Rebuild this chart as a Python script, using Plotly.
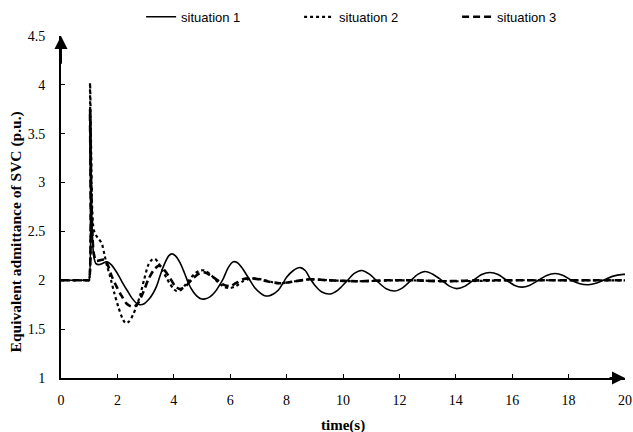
import plotly.graph_objects as go

# ---- data ----
t1 = [0, 0.5, 0.95, 0.99, 1.03, 1.07, 1.11, 1.16, 1.24, 1.34, 1.45, 1.62, 1.78, 1.91, 2.06, 2.21,
      2.36, 2.51, 2.66, 2.80, 2.95, 3.10, 3.25, 3.39, 3.54, 3.69, 3.82, 3.93, 4.06, 4.22, 4.37,
      4.52, 4.67, 4.81, 4.96, 5.11, 5.28, 5.46, 5.60, 5.76, 5.93, 6.11, 6.26, 6.41, 6.55, 6.70,
      6.88, 7.06, 7.20, 7.35, 7.53, 7.71, 7.85, 8.00, 8.24, 8.48, 8.66, 8.83, 9.00, 9.25, 9.54,
      9.82, 10.13, 10.40, 10.66, 10.95, 11.25, 11.55, 11.84, 12.10, 12.38, 12.65, 12.91, 13.20,
      13.50, 13.77, 14.03, 14.33, 14.62, 14.92, 15.21, 15.50, 15.80, 16.07, 16.34, 16.63, 16.93,
      17.22, 17.52, 17.81, 18.10, 18.40, 18.70, 18.97, 19.23, 19.55, 19.94, 20.0]
s1 = [2.0, 2.0, 2.0, 2.0, 3.77, 3.0, 2.5, 2.25, 2.17, 2.16, 2.17, 2.19, 2.16, 2.11, 2.04, 1.96,
      1.89, 1.82, 1.77, 1.75, 1.76, 1.80, 1.86, 1.94, 2.07, 2.18, 2.25, 2.27, 2.25, 2.18, 2.08,
      1.97, 1.89, 1.84, 1.81, 1.81, 1.83, 1.88, 1.94, 2.02, 2.13, 2.19, 2.18, 2.13, 2.07, 2.00,
      1.92, 1.87, 1.845, 1.84, 1.86, 1.90, 1.96, 2.03, 2.10, 2.13, 2.10, 2.02, 1.95, 1.88, 1.86,
      1.90, 1.99, 2.07, 2.10, 2.06, 1.98, 1.91, 1.89, 1.92, 1.99, 2.06, 2.09, 2.06,
      2.00, 1.94, 1.915, 1.94, 2.00, 2.06, 2.08, 2.06, 2.00, 1.95, 1.93, 1.95, 2.00,
      2.05, 2.07, 2.05, 2.00, 1.965, 1.955, 1.97, 2.00, 2.04, 2.06, 2.06]

t2 = [0, 0.5, 0.95, 0.99, 1.03, 1.07, 1.11, 1.16, 1.24, 1.32, 1.44, 1.55, 1.64, 1.74, 1.88, 2.03,
      2.18, 2.30, 2.42, 2.56, 2.68, 2.80, 2.95, 3.10, 3.22, 3.33, 3.45, 3.60, 3.75, 3.87, 4.00,
      4.10, 4.25, 4.40, 4.54, 4.75, 4.95, 5.10, 5.37, 5.60, 5.80, 5.99, 6.20, 6.45, 6.75, 7.10,
      7.50, 7.80, 8.30, 8.80, 9.50, 10.5, 12.0, 14.0, 16.0, 18.0, 20.0]
s2 = [2.0, 2.0, 2.0, 2.0, 4.02, 3.3, 2.7, 2.52, 2.46, 2.43, 2.38, 2.25, 2.14, 2.04, 1.88, 1.73,
      1.61, 1.56, 1.58, 1.65, 1.74, 1.84, 2.01, 2.16, 2.21, 2.22, 2.18, 2.10, 2.02, 1.96, 1.91,
      1.89, 1.90, 1.95, 2.00, 2.07, 2.10, 2.10, 2.04, 1.97, 1.93, 1.92, 1.94, 1.99, 2.02, 2.01,
      1.98, 1.97, 1.99, 2.01, 2.00, 1.99, 2.00, 1.99, 2.00, 2.00, 2.00]

t3 = [0, 0.5, 0.95, 0.99, 1.03, 1.07, 1.11, 1.16, 1.24, 1.32, 1.45, 1.56, 1.68, 1.80, 1.98, 2.15,
      2.33, 2.51, 2.62, 2.74, 2.92, 3.10, 3.30, 3.48, 3.65, 3.87, 4.05, 4.22, 4.42, 4.65, 4.90,
      5.11, 5.35, 5.60, 5.80, 5.99, 6.20, 6.45, 6.70, 7.00, 7.30, 7.77, 8.30, 8.83, 9.50, 10.5,
      11.5, 12.5, 13.5, 15.0, 17.0, 20.0]
s3 = [2.0, 2.0, 2.0, 2.0, 3.75, 3.0, 2.5, 2.28, 2.20, 2.20, 2.21, 2.21, 2.14, 2.04, 1.93, 1.84,
      1.76, 1.73, 1.735, 1.77, 1.88, 2.01, 2.11, 2.15, 2.11, 2.02, 1.94, 1.91, 1.94, 2.01, 2.07,
      2.08, 2.04, 1.99, 1.95, 1.94, 1.97, 2.01, 2.02, 2.01, 1.99, 1.97, 1.99, 2.01, 2.00, 1.99,
      2.00, 2.00, 1.99, 2.00, 2.00, 2.00]

names = ["situation 1", "situation 2", "situation 3"]
x_ticks = [0, 2, 4, 6, 8, 10, 12, 14, 16, 18, 20]
y_ticks = [1, 1.5, 2, 2.5, 3, 3.5, 4, 4.5]

fig = go.Figure()
fig.add_trace(go.Scatter(x=t1, y=s1, name=names[0], mode="lines",
                         line=dict(color="black", width=1.6, shape="spline", smoothing=0.8)))
fig.add_trace(go.Scatter(x=t2, y=s2, name=names[1], mode="lines",
                         line=dict(color="black", width=2.2, dash="dot", shape="spline", smoothing=0.8)))
fig.add_trace(go.Scatter(x=t3, y=s3, name=names[2], mode="lines",
                         line=dict(color="black", width=2.6, dash="7px,4px", shape="spline", smoothing=0.8)))

serif = "Times New Roman, Liberation Serif, serif"
fig.update_layout(
    width=633, height=432,
    margin=dict(l=61, r=8, t=36, b=54, autoexpand=False),
    paper_bgcolor="white", plot_bgcolor="white",
    font=dict(family=serif, size=14, color="black"),
    showlegend=True,
    legend=dict(orientation="h", x=0.142, xanchor="left", y=1.056, yanchor="middle",
                font=dict(family="Liberation Sans, Arial, sans-serif", size=13, color="black"),
                entrywidth=113, entrywidthmode="pixels", bgcolor="rgba(0,0,0,0)"),
    xaxis=dict(range=[0, 20], tickvals=x_ticks, showgrid=False, zeroline=False,
               showline=True, linecolor="black", linewidth=2,
               ticks="inside", ticklen=4, tickcolor="black", tickwidth=1,
               ticklabelstandoff=8, ticklabeloverflow="allow",
               tickfont=dict(family=serif, size=14, color="black")),
    yaxis=dict(range=[1, 4.5], tickvals=y_ticks, showgrid=False, zeroline=False,
               showline=True, linecolor="black", linewidth=2,
               ticks="inside", ticklen=4, tickcolor="black", tickwidth=1,
               ticklabelstandoff=11,
               tickfont=dict(family=serif, size=14, color="black")),
    annotations=[
        dict(x=0, y=4.5, xref="x", yref="y", ax=0, ay=4.2, axref="x", ayref="y",
             text="", showarrow=True, arrowhead=2, arrowsize=1.3, arrowwidth=2, arrowcolor="black"),
        dict(x=20, y=1, xref="x", yref="y", ax=19.4, ay=1, axref="x", ayref="y",
             text="", showarrow=True, arrowhead=2, arrowsize=1.3, arrowwidth=2, arrowcolor="black"),
        dict(x=-0.079, y=0.427, xref="paper", yref="paper", xanchor="center", yanchor="middle",
             text="<b>Equivalent admittance of SVC (p.u.)</b>", textangle=-90, showarrow=False,
             font=dict(family=serif, size=15.5, color="black")),
        dict(x=0.5, y=-0.14, xref="paper", yref="paper", xanchor="center", yanchor="middle",
             text="<b>time(s)</b>", showarrow=False,
             font=dict(family=serif, size=15, color="black")),
    ],
)

fig.write_html("out.html",
               config={"displayModeBar": False},
               post_script="document.body.style.margin='0px';document.body.style.overflow='hidden';")
